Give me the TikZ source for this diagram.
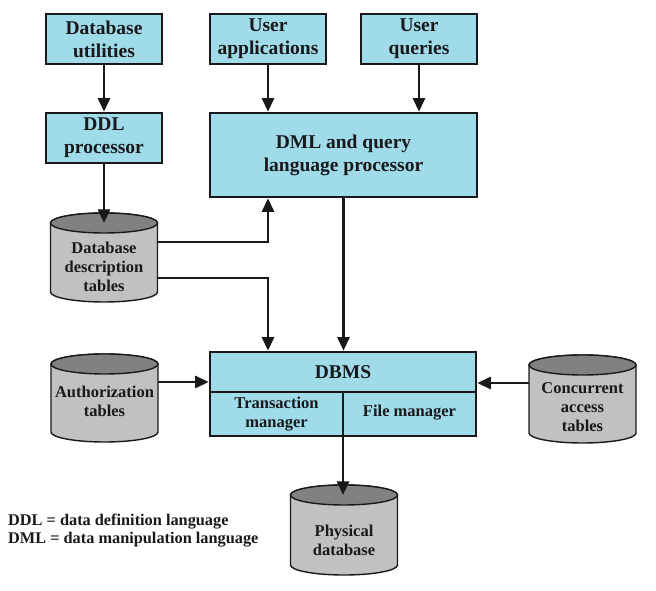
\documentclass[tikz,border=0pt]{standalone}
\usepackage{fontspec}
\setmainfont{Liberation Serif}
\usetikzlibrary{arrows.meta,calc}
\definecolor{boxfill}{RGB}{160,219,234}
\definecolor{cylbody}{RGB}{192,193,193}
\definecolor{cyltop}{RGB}{128,130,130}
\definecolor{ink}{RGB}{25,25,28}
\tikzset{
  box/.style={draw=ink, line width=2.6pt, fill=boxfill, align=center,
    font=\fontsize{19.5}{23}\selectfont\bfseries, text=ink, inner sep=0pt,
    execute at begin node={\rule{0pt}{18.5pt}}},
  boxtext/.style={align=center, font=\fontsize{19.5}{23}\selectfont\bfseries, text=ink, inner sep=0pt},
  subtext/.style={align=center, font=\fontsize{16.5}{19}\selectfont\bfseries, text=ink, inner sep=0pt},
  cyltext/.style={align=center, font=\fontsize{16.5}{19}\selectfont\bfseries, text=ink,
    minimum width=107pt, inner sep=0pt},
  cylline/.style={draw=ink, line width=1.4pt},
  divline/.style={draw=ink, line width=2.6pt},
  arr/.style={draw=ink, line width=2.5pt, -{Triangle[length=13.5pt,width=12pt]}},
  legend/.style={align=left, font=\fontsize{16.3}{18}\selectfont\bfseries, text=ink, inner sep=0pt},
}
% name, cx, ytop, ybot, text y, text
\newcommand\dbcyl[6]{%
  \path[cylline, fill=cylbody] (#2-53.5,#3-10) -- (#2-53.5,#4+10)
    arc[start angle=180,end angle=360,x radius=53.5,y radius=10]
    -- (#2+53.5,#3-10)
    arc[start angle=0,end angle=180,x radius=53.5,y radius=10] -- cycle;
  \path[cylline, fill=cyltop] (#2,#3-10) ellipse[x radius=53.5,y radius=10];
  \coordinate (#1top) at (#2,#3-10);
  \node[cyltext] (#1) at (#2,#5) {#6};
}
\begin{document}
\begin{tikzpicture}[x=1pt,y=1pt]
\useasboundingbox (0,0) rectangle (656,591);
\fill[white] (0,0) rectangle (656,591);

% top boxes
\node[box, minimum width=116pt, minimum height=50pt] (dbu) at (104,552) {Database\\utilities};
\node[box, minimum width=116pt, minimum height=50pt] (ua) at (268,552) {User\\applications};
\node[box, minimum width=116pt, minimum height=50pt] (uq) at (419,552) {User\\queries};
\node[box, minimum width=116pt, minimum height=50pt] (ddl) at (104,453) {DDL\\processor};
\node[box, minimum width=267pt, minimum height=84pt] (dml) at (343.5,436) {DML and query\\language processor};

% DBMS
\node[box, minimum width=266pt, minimum height=84pt] (dbms) at (343,197) {};
\draw[divline] (dbms.west |- 0,199) -- (dbms.east |- 0,199);
\draw[divline] (343,199) -- (dbms.south);
\node[boxtext] (dbmslabel) at (343,219) {DBMS};
\node[subtext] (tm) at (276.5,177) {Transaction\\manager};
\node[subtext] (fm) at (409.5,178) {File manager};

% cylinders
\dbcyl{ddt}{104}{378}{289}{324}{Database\\description\\tables}
\dbcyl{auth}{104.5}{237}{149}{190}{Authorization\\tables}
\dbcyl{conc}{582.5}{236}{148}{184}{Concurrent\\access\\tables}
\dbcyl{phys}{344}{106}{16}{51}{Physical\\database}

% legend
\node[legend, anchor=west] (leg) at (8,60) {DDL = data definition language\\DML = data manipulation language};

% connectors
\draw[arr] (dbu) -- (ddl);
\draw[arr] (ua) -- (ua |- dml.north);
\draw[arr] (uq) -- (uq |- dml.north);
\draw[arr] (ddl) -- (ddttop);
\draw[arr] ([yshift=25pt]ddt.east) -| (ua |- dml.south);
\draw[arr] ([yshift=-11pt]ddt.east) -| (ua |- dbms.north);
\draw[arr] (dml.south) -- (dml.south |- dbms.north);
\draw[arr] ([yshift=19pt]auth.east) coordinate (a1) -- (a1 -| dbms.west);
\draw[arr] ([yshift=24pt]conc.west) coordinate (c1) -- (c1 -| dbms.east);
\draw[arr] (dbms.south) -- (dbms.south |- phystop);
\end{tikzpicture}
\end{document}
